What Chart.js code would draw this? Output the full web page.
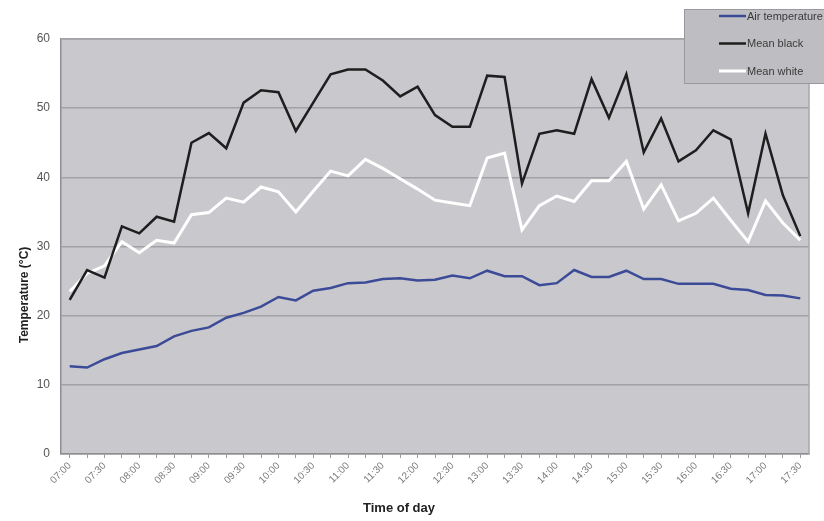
<!DOCTYPE html>
<html>
<head>
<meta charset="utf-8">
<script src="https://cdn.jsdelivr.net/npm/chart.js@4/dist/chart.umd.min.js"></script>
<style>
  html, body { margin: 0; padding: 0; background: #ffffff; }
  #wrap { width: 824px; height: 521px; position: relative; }
</style>
</head>
<body>
<div id="wrap"><canvas id="c" width="824" height="521"></canvas></div>
<script>
// Readings every 15 minutes, 07:00 to 17:30
const times = [
  '07:00','07:15','07:30','07:45','08:00','08:15','08:30','08:45','09:00','09:15',
  '09:30','09:45','10:00','10:15','10:30','10:45','11:00','11:15','11:30','11:45',
  '12:00','12:15','12:30','12:45','13:00','13:15','13:30','13:45','14:00','14:15',
  '14:30','14:45','15:00','15:15','15:30','15:45','16:00','16:15','16:30','16:45',
  '17:00','17:15','17:30'
];

const airTemperature = [
  12.7, 12.5, 13.7, 14.6, 15.1, 15.6, 17.0, 17.8, 18.3, 19.7,
  20.4, 21.3, 22.7, 22.2, 23.6, 24.0, 24.7, 24.8, 25.3, 25.4,
  25.1, 25.2, 25.8, 25.4, 26.5, 25.7, 25.7, 24.4, 24.7, 26.6,
  25.6, 25.6, 26.5, 25.3, 25.3, 24.6, 24.6, 24.6, 23.9, 23.7,
  23.0, 22.9, 22.5
];

const meanBlack = [
  22.3, 26.6, 25.5, 32.9, 31.9, 34.3, 33.6, 45.0, 46.4, 44.2,
  50.8, 52.6, 52.3, 46.7, 50.8, 54.9, 55.6, 55.6, 54.0, 51.7,
  53.1, 49.0, 47.3, 47.3, 54.7, 54.5, 39.1, 46.3, 46.8, 46.3,
  54.2, 48.6, 54.9, 43.6, 48.5, 42.3, 43.9, 46.8, 45.5, 34.8,
  46.3, 37.4, 31.5
];

const meanWhite = [
  23.5, 26.1, 27.2, 30.7, 29.1, 30.9, 30.5, 34.6, 34.9, 37.0,
  36.4, 38.6, 37.9, 35.0, 38.0, 40.9, 40.2, 42.6, 41.3, 39.8,
  38.3, 36.7, 36.3, 35.9, 42.8, 43.5, 32.4, 35.9, 37.3, 36.5,
  39.5, 39.5, 42.3, 35.4, 38.9, 33.7, 34.8, 37.0, 33.8, 30.7,
  36.6, 33.4, 30.9
];

const seriesNames = ['Air temperature', 'Mean black', 'Mean white'];
const yTicks = [0, 10, 20, 30, 40, 50, 60];
const xTitle = 'Time of day';
const yTitle = 'Temperature (\u00B0C)';

const PLOT_BG = '#c9c9cd';

// Grey plot background and frame
const plotFrame = {
  id: 'plotFrame',
  beforeDraw(chart) {
    const { ctx, chartArea: a } = chart;
    ctx.save();
    ctx.fillStyle = PLOT_BG;
    ctx.fillRect(a.left, a.top, a.right - a.left, a.bottom - a.top);
    ctx.restore();
  },
  afterDatasetsDraw(chart) {
    const { ctx, chartArea: a } = chart;
    ctx.save();
    ctx.strokeStyle = '#a6a6aa';
    ctx.lineWidth = 1.5;
    ctx.beginPath();
    ctx.moveTo(a.left, a.top);
    ctx.lineTo(a.right, a.top);
    ctx.lineTo(a.right, a.bottom);
    ctx.stroke();
    ctx.restore();
  }
};

// Axis titles
const axisTitles = {
  id: 'axisTitles',
  afterDraw(chart) {
    const { ctx } = chart;
    ctx.save();
    ctx.fillStyle = '#222222';
    ctx.textAlign = 'center';
    ctx.textBaseline = 'middle';
    ctx.font = 'bold 13px "Liberation Sans", Arial, sans-serif';
    ctx.fillText(xTitle, 399, 508);
    ctx.translate(25, 295);
    ctx.rotate(-Math.PI / 2);
    ctx.font = 'bold 12px "Liberation Sans", Arial, sans-serif';
    ctx.fillText(yTitle, 0, 0);
    ctx.restore();
  }
};

// Boxed legend in the upper right corner
const boxLegend = {
  id: 'boxLegend',
  afterDraw(chart) {
    const { ctx } = chart;
    const x0 = 684, y0 = 9, w = 150, h = 74;
    ctx.save();
    ctx.fillStyle = '#bebec2';
    ctx.strokeStyle = '#9a9a9e';
    ctx.lineWidth = 1;
    ctx.fillRect(x0, y0, w, h);
    ctx.strokeRect(x0 + 0.5, y0 + 0.5, w, h);
    ctx.font = '11px "Liberation Sans", Arial, sans-serif';
    ctx.textBaseline = 'middle';
    ctx.textAlign = 'left';
    chart.data.datasets.forEach((ds, i) => {
      const y = 16 + i * 27.5;
      ctx.strokeStyle = ds.borderColor;
      ctx.lineWidth = ds.borderWidth;
      ctx.beginPath();
      ctx.moveTo(719, y);
      ctx.lineTo(746, y);
      ctx.stroke();
      ctx.fillStyle = '#3a3a3a';
      ctx.fillText(ds.label, 747, y + 0.5);
    });
    ctx.restore();
  }
};

const chart = new Chart(document.getElementById('c'), {
  type: 'line',
  data: {
    labels: times,
    datasets: [
      { label: seriesNames[0], data: airTemperature, borderColor: '#3c4b97', borderWidth: 2.5 },
      { label: seriesNames[1], data: meanBlack, borderColor: '#1e1e1e', borderWidth: 2.5 },
      { label: seriesNames[2], data: meanWhite, borderColor: '#ffffff', borderWidth: 3 }
    ]
  },
  options: {
    responsive: false,
    animation: false,
    events: [],
    elements: {
      point: { radius: 0 },
      line: { tension: 0, borderJoinStyle: 'miter', fill: false }
    },
    layout: { padding: { left: 0, top: 39, right: 15, bottom: 0 } },
    plugins: {
      legend: { display: false },
      tooltip: { enabled: false }
    },
    scales: {
      x: {
        type: 'category',
        offset: true,
        grid: {
          drawOnChartArea: false,
          drawTicks: true,
          tickLength: 4,
          color: '#9a9a9a'
        },
        border: { display: true, color: '#8e8e92', width: 1.5 },
        ticks: {
          autoSkip: false,
          minRotation: 45,
          maxRotation: 45,
          padding: 2,
          color: '#7a7a7a',
          font: { size: 10, family: '"Liberation Sans", Arial, sans-serif' },
          callback: function (value, index) {
            return index % 2 === 0 ? this.getLabelForValue(value) : '';
          }
        },
        afterFit: (s) => { s.height = 67; s.paddingLeft = 0; s.paddingRight = 0; }
      },
      y: {
        min: 0,
        max: 60,
        afterBuildTicks: (s) => { s.ticks = yTicks.map(v => ({ value: v })); },
        grid: {
          color: '#a2a2a6',
          lineWidth: 1.5,
          drawTicks: false
        },
        border: { display: true, color: '#8e8e92', width: 1.5 },
        ticks: {
          padding: 11,
          color: '#555555',
          font: { size: 12, family: '"Liberation Sans", Arial, sans-serif' }
        },
        afterFit: (s) => { s.width = 61; s.paddingTop = 0; s.paddingBottom = 0; }
      }
    }
  },
  plugins: [plotFrame, axisTitles, boxLegend]
});
</script>
</body>
</html>
